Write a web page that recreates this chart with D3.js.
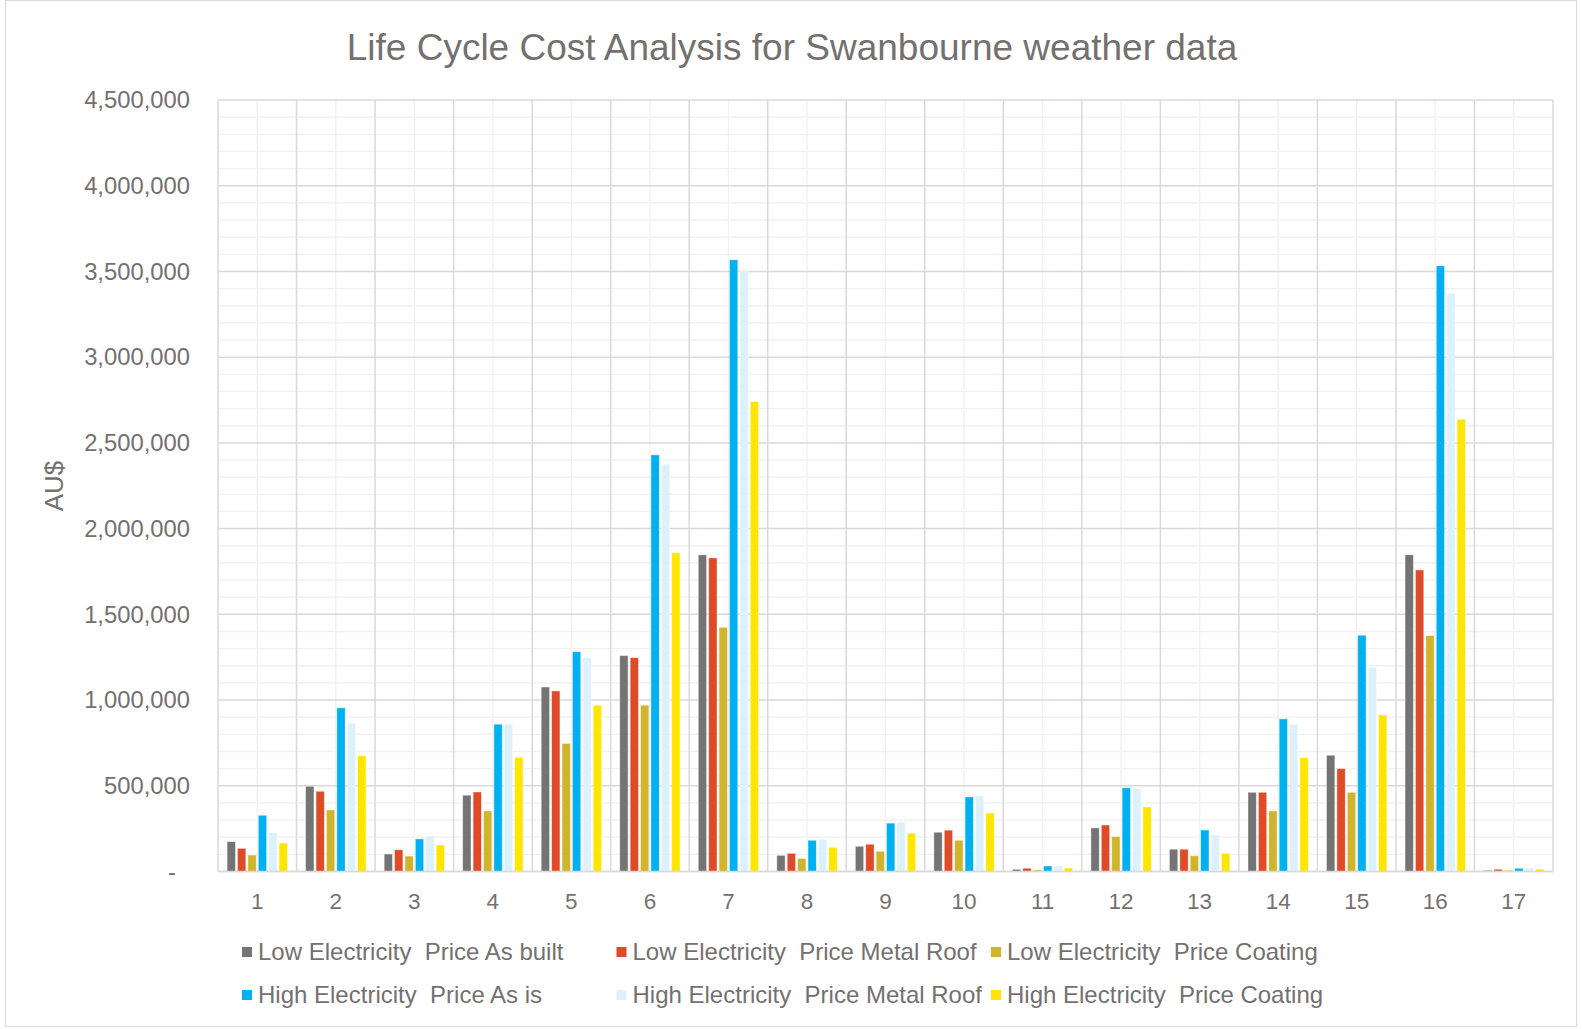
<!DOCTYPE html>
<html>
<head>
<meta charset="utf-8">
<script src="https://d3js.org/d3.v7.min.js"></script>
<style>
  body { margin: 0; background: #fff; }
  svg { display: block; font-family: "Liberation Sans", Arial, sans-serif; }
</style>
</head>
<body>
<svg id="chart" width="1582" height="1029"></svg>
<script>
// categories and series
let categories = ["1","2","3","4","5","6","7","8","9","10","11","12","13","14","15","16","17"];
let seriesNames = [
	"Low Electricity  Price As built",
	"Low Electricity  Price Metal Roof",
	"Low Electricity  Price Coating",
	"High Electricity  Price As is",
	"High Electricity  Price Metal Roof",
	"High Electricity  Price Coating"
];
let seriesColors = ["#747474", "#e04b27", "#d0b42c", "#00b0f0", "#ddf1fc", "#ffe500"];

// values in AU$ per category
let lowAsBuilt    = [174000, 497000, 102000, 445000, 1076000, 1259000, 1847000, 94000, 147000, 229000, 13000, 254000, 130000, 462000, 678000, 1847000, 7000];
let lowMetalRoof  = [135000, 468000, 127000, 464000, 1053000, 1247000, 1829000, 106000, 159000, 241000, 19000, 271000, 130000, 462000, 600000, 1759000, 13000];
let lowCoating    = [96000, 359000, 90000, 353000, 747000, 970000, 1424000, 76000, 118000, 182000, 9000, 203000, 92000, 353000, 462000, 1376000, 7000];
let highAsIs      = [328000, 955000, 190000, 859000, 1282000, 2430000, 3568000, 182000, 282000, 435000, 32000, 488000, 242000, 890000, 1378000, 3533000, 19000];
let highMetalRoof = [226000, 865000, 207000, 859000, 1247000, 2376000, 3500000, 188000, 288000, 441000, 32000, 482000, 213000, 859000, 1189000, 3373000, 20000];
let highCoating   = [166000, 674000, 155000, 666000, 970000, 1859000, 2741000, 141000, 224000, 341000, 20000, 376000, 106000, 664000, 913000, 2638000, 13000];

let yTicks = [0, 500000, 1000000, 1500000, 2000000, 2500000, 3000000, 3500000, 4000000, 4500000];

let allSeries = [lowAsBuilt, lowMetalRoof, lowCoating, highAsIs, highMetalRoof, highCoating];
let textColor = "#757070";

var svg = d3.select("#chart");

// outer frame
svg.append("rect")
	.attr("x", 5.5).attr("y", 0.5)
	.attr("width", 1571).attr("height", 1026)
	.attr("fill", "#fff")
	.attr("stroke", "#d9d9d9");

let plotLeft = 218, plotRight = 1553, plotTop = 100, plotBottom = 871.5;

let x0 = d3.scaleBand().domain(categories).range([plotLeft, plotRight]).padding(0);
let x1 = d3.scaleBand().domain(d3.range(seriesNames.length))
	.range([0, x0.bandwidth()]).paddingInner(0.2).paddingOuter(0.875);
let y = d3.scaleLinear().domain([0, 4500000]).range([plotBottom, plotTop]);

// minor horizontal grid
let grid = svg.append("g");
grid.selectAll("minor-h")
	.data(d3.range(0, 4500001, 100000).filter(function(d){ return d % 500000 != 0 }))
	.enter()
	.append("line")
	.attr("x1", plotLeft).attr("x2", plotRight)
	.attr("y1", function(d){ return y(d) }).attr("y2", function(d){ return y(d) })
	.attr("stroke", "#f2f0f0").attr("stroke-width", 1.3);

// minor vertical grid (category centres)
grid.selectAll("minor-v")
	.data(categories)
	.enter()
	.append("line")
	.attr("x1", function(d){ return x0(d) + x0.bandwidth()/2 })
	.attr("x2", function(d){ return x0(d) + x0.bandwidth()/2 })
	.attr("y1", plotTop).attr("y2", plotBottom)
	.attr("stroke", "#f2f0f0").attr("stroke-width", 1.3);

// major horizontal grid
grid.selectAll("major-h")
	.data(yTicks)
	.enter()
	.append("line")
	.attr("x1", plotLeft).attr("x2", plotRight)
	.attr("y1", function(d){ return y(d) }).attr("y2", function(d){ return y(d) })
	.attr("stroke", "#dcd8d9").attr("stroke-width", 1.5);

// major vertical grid (category boundaries)
grid.selectAll("major-v")
	.data(categories.concat(["end"]))
	.enter()
	.append("line")
	.attr("x1", function(d, i){ return plotLeft + i * x0.bandwidth() })
	.attr("x2", function(d, i){ return plotLeft + i * x0.bandwidth() })
	.attr("y1", plotTop).attr("y2", plotBottom)
	.attr("stroke", "#dcd8d9").attr("stroke-width", 1.5);

// bars
let groups = svg.append("g").selectAll("g")
	.data(categories)
	.enter()
	.append("g")
	.attr("transform", function(d){ return "translate(" + x0(d) + ",0)" });

groups.selectAll("rect")
	.data(function(d, ci){ return allSeries.map(function(s, si){ return {si: si, v: s[ci]} }) })
	.enter()
	.append("rect")
	.attr("x", function(d){ return x1(d.si) })
	.attr("width", x1.bandwidth())
	.attr("y", function(d){ return y(d.v) })
	.attr("height", function(d){ return plotBottom - y(d.v) })
	.attr("fill", function(d){ return seriesColors[d.si] })
	.attr("stroke", "#ffffff").attr("stroke-opacity", 0.5).attr("stroke-width", 0.8);

// bottom axis line
svg.append("line")
	.attr("x1", plotLeft).attr("x2", plotRight)
	.attr("y1", plotBottom).attr("y2", plotBottom)
	.attr("stroke", "#dcd8d9").attr("stroke-width", 1.5);

// y tick labels
svg.append("g").selectAll("text")
	.data(yTicks)
	.enter()
	.append("text")
	.attr("x", function(d){ return d == 0 ? 176 : 190 })
	.attr("y", function(d){ return y(d) })
	.attr("dy", "0.35em")
	.attr("text-anchor", "end")
	.attr("fill", textColor)
	.style("font-size", "23.8px")
	.text(function(d){ return d == 0 ? "-" : d3.format(",")(d) });

// x tick labels
svg.append("g").selectAll("text")
	.data(categories)
	.enter()
	.append("text")
	.attr("x", function(d){ return x0(d) + x0.bandwidth()/2 })
	.attr("y", 901)
	.attr("dy", "0.35em")
	.attr("text-anchor", "middle")
	.attr("fill", textColor)
	.style("font-size", "22.5px")
	.text(function(d){ return d });

// axis title
svg.append("text")
	.attr("transform", "translate(54,486) rotate(-90)")
	.attr("dy", "0.35em")
	.attr("text-anchor", "middle")
	.attr("fill", textColor)
	.style("font-size", "26px")
	.text("AU$");

// chart title
svg.append("text")
	.attr("x", 792)
	.attr("y", 47)
	.attr("dy", "0.35em")
	.attr("text-anchor", "middle")
	.attr("fill", textColor)
	.style("font-size", "37px")
	.text("Life Cycle Cost Analysis for Swanbourne weather data");

// legend
let legendX = [247, 621.5, 996];
let legendY = [952, 995];
let legend = svg.append("g").selectAll("g")
	.data(seriesNames)
	.enter()
	.append("g")
	.attr("transform", function(d, i){ return "translate(" + legendX[i % 3] + "," + legendY[Math.floor(i / 3)] + ")" });

legend.append("rect")
	.attr("x", -5).attr("y", -5)
	.attr("width", 10).attr("height", 10)
	.attr("fill", function(d, i){ return seriesColors[i] });

legend.append("text")
	.attr("x", 11)
	.attr("dy", "0.35em")
	.attr("fill", textColor)
	.style("font-size", "24px")
	.style("white-space", "pre")
	.text(function(d){ return d });
</script>
</body>
</html>
